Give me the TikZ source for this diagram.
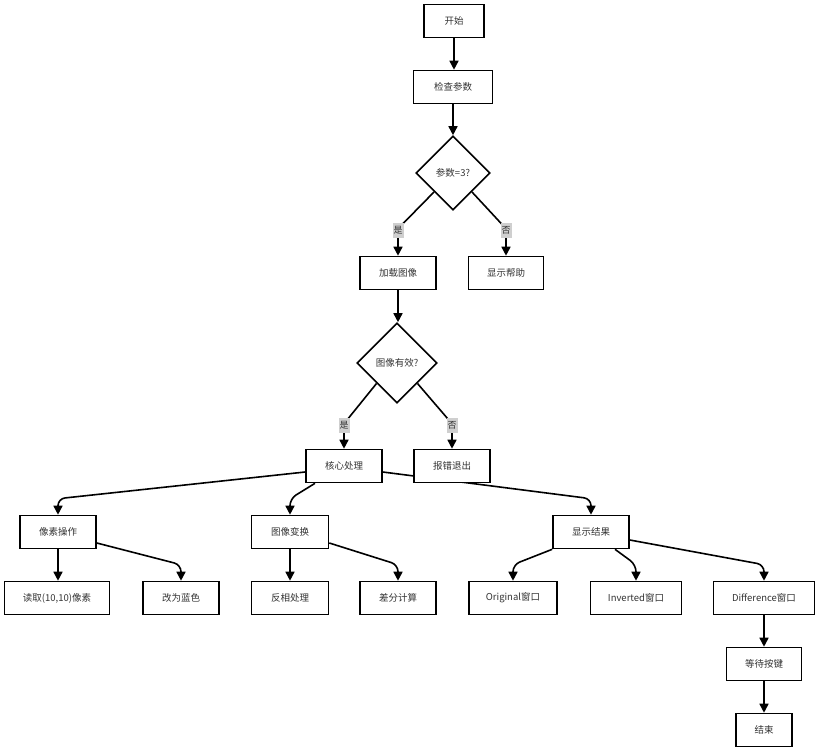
\documentclass[tikz,border=0pt]{standalone}
\usepackage{fontspec}
\setmainfont{Noto Sans CJK SC}
\usetikzlibrary{shapes.geometric,arrows.meta,calc}
\pgfdeclarelayer{bg}
\pgfsetlayers{bg,main}
\definecolor{txt}{HTML}{333333}
\definecolor{lblgray}{HTML}{CFCFCF}
\begin{document}
\begin{tikzpicture}[x=1pt,y=-1pt,
  box/.style={draw=black, fill=white, line width=1.6pt, minimum height=33pt,
    minimum width=76pt, inner sep=2pt, font=\fontsize{9.5}{11}\selectfont, text=txt},
  dia/.style={diamond, draw=black, fill=white, line width=1.6pt, inner sep=0pt,
    font=\fontsize{9.5}{11}\selectfont, text=txt},
  edge/.style={line width=1.6pt, draw=black, -{Triangle[length=9pt,width=9pt]},
    rounded corners=7pt},
  lbl/.style={fill=lblgray, inner xsep=1pt, inner ysep=2pt, minimum width=11pt,
    minimum height=15pt, font=\fontsize{9}{10}\selectfont, text=txt}]
\useasboundingbox (0,0) rectangle (820,755);

\node[box, minimum width=60pt] (start) at (454,21) {开始};
\node[box, minimum width=79pt] (check) at (453,87) {检查参数};
\node[dia, minimum width=74pt, minimum height=74pt] (q1) at (453,173) {参数=3?};
\node[box] (load) at (398,273) {加载图像};
\node[box, minimum width=75pt] (help) at (506,273) {显示帮助};
\node[dia, minimum width=80pt, minimum height=80pt] (q2) at (397,363) {图像有效?};
\node[box] (core) at (344,466) {核心处理};
\node[box] (err) at (452,466) {报错退出};
\node[box] (pix) at (58,532) {像素操作};
\node[box, minimum width=77pt] (trans) at (290,532) {图像变换};
\node[box] (res) at (591,532) {显示结果};
\node[box, minimum width=105pt] (read) at (57,598) {读取(10,10)像素};
\node[box] (blue) at (181,598) {改为蓝色};
\node[box, minimum width=77pt] (inv) at (290,598) {反相处理};
\node[box] (diff) at (398,598) {差分计算};
\node[box, minimum width=88pt] (orig) at (513,598) {Original窗口};
\node[box, minimum width=91pt] (invw) at (636,598) {Inverted窗口};
\node[box, minimum width=101pt] (diffw) at (764,598) {Difference窗口};
\node[box, minimum width=75pt] (wait) at (764,664) {等待按键};
\node[box, minimum width=56pt] (end) at (764,730) {结束};

\begin{pgfonlayer}{bg}
\fill[white] (0,0) rectangle (820,755);
\draw[edge] (start.south) -- (start.south |- check.north);
\draw[edge] (check.south) -- (check.south |- q1.north);
\draw[edge] (q1.south west) -- ([yshift=27pt]load.north) -- (load.north);
\draw[edge] (q1.south east) -- ([yshift=27pt]help.north) -- (help.north);
\draw[edge] (load.south) -- (load.south |- q2.north);
\draw[edge] (q2.south west) -- ([yshift=25pt]core.north) -- (core.north);
\draw[edge] (q2.south east) -- ([yshift=25pt]err.north) -- (err.north);
\draw[edge] ([yshift=-6pt]core.west) -- ([yshift=16pt]pix.north) -- (pix.north);
\draw[edge] ([xshift=-29pt]core.south) -- ([yshift=16pt]trans.north) -- (trans.north);
\draw[edge] ([yshift=-6pt]core.east) -- ([yshift=16pt]res.north) -- (res.north);
\draw[edge] (pix.south) -- (pix.south |- read.north);
\draw[edge] ([yshift=-11pt]pix.east) -- ([yshift=16pt]blue.north) -- (blue.north);
\draw[edge] (trans.south) -- (trans.south |- inv.north);
\draw[edge] ([yshift=-11pt]trans.east) -- ([yshift=16pt]diff.north) -- (diff.north);
\draw[edge] (res.south west) -- ([yshift=16pt]orig.north) -- (orig.north);
\draw[edge] ([xshift=24pt]res.south) -- ([yshift=16pt]invw.north) -- (invw.north);
\draw[edge] ([yshift=-8pt]res.east) -- ([yshift=16pt]diffw.north) -- (diffw.north);
\draw[edge] (diffw.south) -- (diffw.south |- wait.north);
\draw[edge] (wait.south) -- (wait.south |- end.north);
\end{pgfonlayer}
\node[lbl] (l1) at ([yshift=25pt]load.north) {是};
\node[lbl] (l2) at ([yshift=25pt]help.north) {否};
\node[lbl] (l3) at ([yshift=23pt]core.north) {是};
\node[lbl] (l4) at ([yshift=23pt]err.north) {否};
\end{tikzpicture}
\end{document}
